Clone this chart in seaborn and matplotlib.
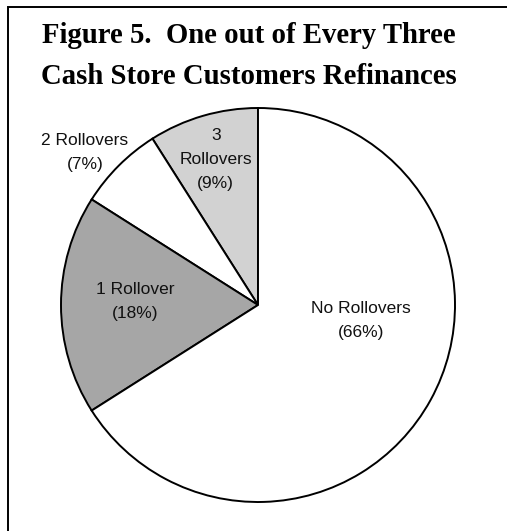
import numpy as np
import matplotlib
matplotlib.use("Agg")
import matplotlib.pyplot as plt
import seaborn as sns
from matplotlib.patches import Rectangle

# Slices in drawing order (counter-clockwise from 12 o'clock)
categories = ["3\nRollovers", "2 Rollovers", "1 Rollover", "No Rollovers"]
shares = [9, 7, 18, 66]
slice_colors = ["#d2d2d2", "#ffffff", "#a6a6a6", "#ffffff"]
title = "Figure 5.  One out of Every Three\nCash Store Customers Refinances"

# label placement: (radius fraction, angle offset from wedge middle in degrees)
label_pos = [(0.77, 0), (1.17, 3.7), (0.625, -1.4), (0.53, 20.5)]

sns.set_theme(style="white")
plt.rcParams['font.family'] = ['Liberation Sans', 'DejaVu Sans']

fig = plt.figure(figsize=(5.07, 5.31), dpi=100)
W, H = 507, 531

# outer frame of the figure box
fig.patches.append(Rectangle((8 / W, -0.05), 1.1, (531 - 7) / H + 0.05,
                             transform=fig.transFigure, fill=False,
                             edgecolor="black", linewidth=1.4))

fig.text(249 / W, 1 - 56 / H, title, ha="center", va="center",
         fontsize=20.7, fontweight="bold", family="Liberation Serif",
         linespacing=1.65, color="black")

cx, cy, r = 258, 305, 197
ax = fig.add_axes([(cx - r) / W, (H - cy - r) / H, 2 * r / W, 2 * r / H])
wedges, _ = ax.pie(shares, colors=slice_colors, startangle=90,
                   counterclock=True,
                   wedgeprops=dict(edgecolor="black", linewidth=1.4))
ax.set_xlim(-1, 1)
ax.set_ylim(-1, 1)
ax.set_aspect("equal")
ax.axis("off")

for w, name, share, (dist, off) in zip(wedges, categories, shares, label_pos):
    ang = np.deg2rad((w.theta1 + w.theta2) / 2 + off)
    ax.text(dist * np.cos(ang), dist * np.sin(ang), f"{name}\n({share}%)",
            ha="center", va="center", fontsize=12.5, linespacing=1.75,
            color="#111111")

fig.savefig("out.png", dpi=100)
